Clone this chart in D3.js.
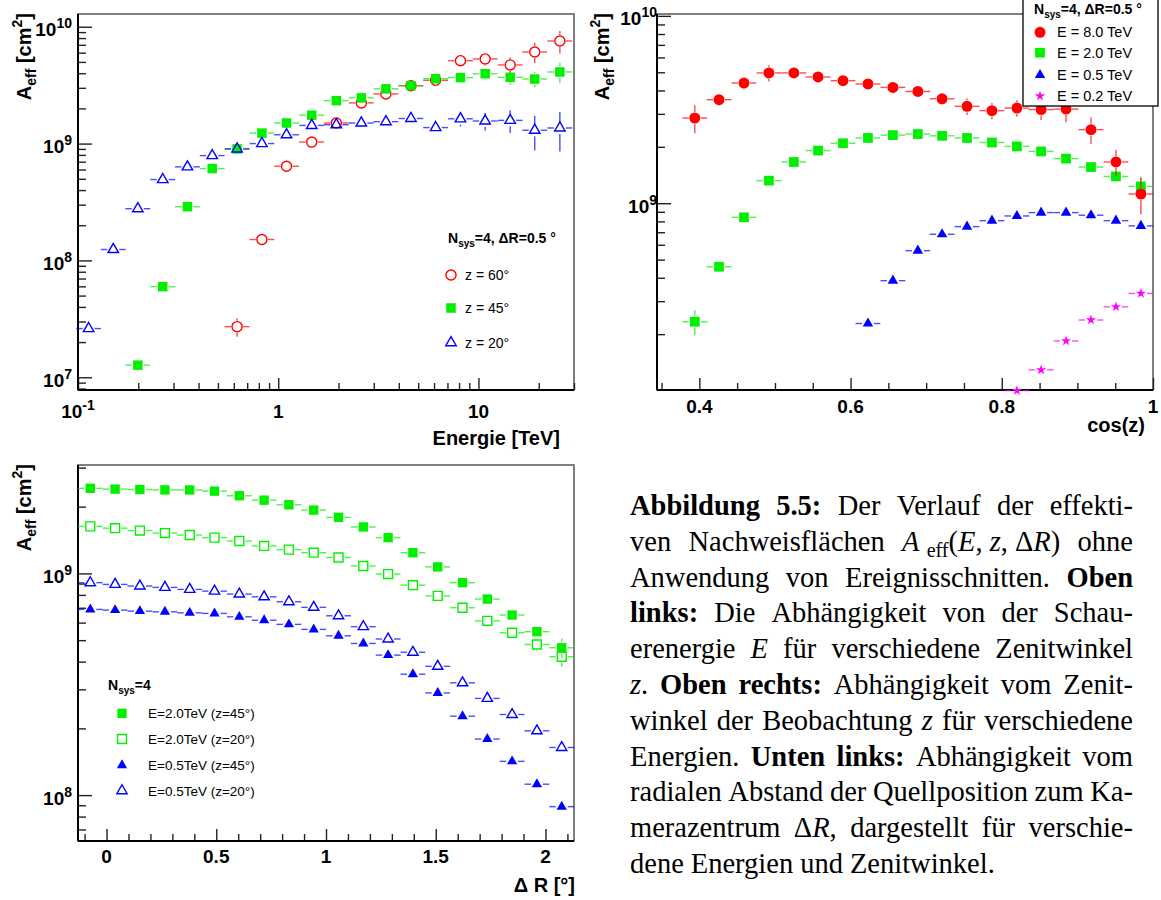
<!DOCTYPE html>
<html>
<head>
<meta charset="utf-8">
<script src="https://cdn.jsdelivr.net/npm/d3@7"></script>
<style>
  body { margin: 0; background: #fff; }
  svg { display: block; }
  .root text { font-family: "Liberation Sans", Arial, Helvetica, sans-serif; }
  .root text.cap { font-family: "Liberation Serif", "Times New Roman", serif; font-size: 28.5px; }
</style>
</head>
<body>
<script>
// ---- Oben links : A_eff(E) fuer drei Zenitwinkel ----
const energie = [0.113, 0.150, 0.199, 0.265, 0.352, 0.468, 0.623, 0.829, 1.10, 1.47,
                 1.95, 2.60, 3.45, 4.60, 6.11, 8.13, 10.8, 14.4, 19.1, 25.5];
const aeffZ60 = [null, null, null, null, null, null, 2.71e7, 1.51e8, 6.40e8, 1.03e9,
                 1.50e9, 2.23e9, 2.66e9, 3.13e9, 3.48e9, 5.12e9, 5.30e9, 4.71e9, 6.08e9, 7.55e9];
const errZ60  = [0, 0, 0, 0, 0, 0, .18, .10, .04, .03, .03, .03, .03, .03, .03, .05, .12, .16, .20, .22];
const aeffZ45 = [null, null, 1.27e7, 5.96e7, 2.88e8, 6.11e8, 9.0e8, 1.23e9, 1.50e9, 1.75e9,
                 2.33e9, 2.46e9, 2.94e9, 3.13e9, 3.59e9, 3.67e9, 3.96e9, 3.69e9, 3.57e9, 4.10e9];
const errZ45  = [0, 0, .10, .05, .03, .03, .03, .03, .03, .03, .03, .03, .03, .03, .03, .04, .08, .14, .15, .20];
const aeffZ20 = [2.61e7, 1.24e8, 2.77e8, 4.92e8, 6.32e8, 7.89e8, 9.0e8, 1.0e9, 1.19e9, 1.43e9,
                 1.45e9, 1.50e9, 1.54e9, 1.64e9, 1.37e9, 1.63e9, 1.56e9, 1.58e9, 1.30e9, 1.36e9];
const errZ20  = [.03, .03, .03, .03, .03, .03, .03, .03, .03, .03, .03, .04, .04, .05, .10, .14, .17, .22, .33, .37];
const halbBinLogE = 0.062;

// ---- Oben rechts : A_eff(cos z) fuer vier Energien ----
const cosZ = [0.394, 0.426, 0.459, 0.492, 0.525, 0.557, 0.590, 0.623, 0.656, 0.689,
              0.721, 0.754, 0.787, 0.820, 0.852, 0.885, 0.918, 0.951, 0.984];
const aeffE80 = [2.85e9, 3.57e9, 4.38e9, 4.96e9, 4.96e9, 4.72e9, 4.51e9, 4.33e9, 4.15e9, 3.95e9,
                 3.61e9, 3.29e9, 3.12e9, 3.22e9, 3.16e9, 3.18e9, 2.47e9, 1.66e9, 1.12e9];
const errE80  = [.17, .075, .075, .10, .06, .06, .06, .05, .075, .06, .075, .10, .10, .10, .12, .15, .16, .16, .22];
const aeffE20 = [2.33e8, 4.58e8, 8.41e8, 1.32e9, 1.66e9, 1.91e9, 2.09e9, 2.23e9, 2.31e9, 2.34e9,
                 2.29e9, 2.23e9, 2.11e9, 2.01e9, 1.89e9, 1.73e9, 1.56e9, 1.39e9, 1.23e9];
const errE20  = [.15, .06, .04, .03, .03, .03, .03, .03, .03, .03, .03, .03, .03, .03, .03, .03, .03, .04, .13];
const aeffE05 = [null, null, null, null, null, null, null, 2.28e8, 3.86e8, 5.58e8,
                 6.83e8, 7.50e8, 8.07e8, 8.55e8, 8.91e8, 8.91e8, 8.63e8, 8.07e8, 7.57e8];
const errE05  = [0, 0, 0, 0, 0, 0, 0, .03, .03, .03, .03, .03, .03, .03, .03, .03, .03, .03, .03];
const aeffE02 = [null, null, null, null, null, null, null, null, null, null,
                 null, null, null, 1.0e8, 1.29e8, 1.84e8, 2.38e8, 2.80e8, 3.30e8];
const errE02  = [0, 0, 0, 0, 0, 0, 0, 0, 0, 0, 0, 0, 0, .03, .03, .03, .03, .03, .03];
const halbBinCos = 0.0164;

// ---- Unten links : A_eff(Delta R) ----
const deltaR = [-0.074, 0.039, 0.152, 0.266, 0.379, 0.492, 0.605, 0.718, 0.831, 0.944,
                1.057, 1.170, 1.283, 1.396, 1.509, 1.622, 1.735, 1.848, 1.961, 2.074];
const aeffE2z45 = [2.42e9, 2.40e9, 2.39e9, 2.38e9, 2.38e9, 2.35e9, 2.24e9, 2.14e9, 2.04e9, 1.93e9,
                   1.79e9, 1.62e9, 1.45e9, 1.24e9, 1.07e9, 9.08e8, 7.66e8, 6.49e8, 5.46e8, 4.62e8];
const errE2z45  = [.02, .02, .02, .02, .02, .02, .02, .02, .02, .02, .02, .02, .02, .02, .02, .02, .02, .03, .05, .10];
const aeffE2z20 = [1.63e9, 1.60e9, 1.56e9, 1.52e9, 1.49e9, 1.45e9, 1.40e9, 1.33e9, 1.28e9, 1.24e9,
                   1.18e9, 1.08e9, 9.93e8, 8.85e8, 7.92e8, 7.00e8, 6.11e8, 5.40e8, 4.78e8, 4.21e8];
const errE2z20  = [.02, .02, .02, .02, .02, .02, .02, .02, .02, .02, .02, .02, .02, .02, .02, .03, .06, .03, .07, .10];
const aeffE05z45 = [6.88e8, 6.83e8, 6.76e8, 6.71e8, 6.64e8, 6.60e8, 6.37e8, 6.15e8, 5.89e8, 5.59e8,
                    5.23e8, 4.83e8, 4.28e8, 3.51e8, 2.89e8, 2.27e8, 1.79e8, 1.42e8, 1.12e8, 8.87e7];
const errE05z45  = [.02, .02, .02, .02, .02, .02, .02, .02, .02, .02, .02, .02, .02, .02, .02, .02, .02, .02, .03, .06];
const aeffE05z20 = [9.08e8, 8.92e8, 8.77e8, 8.65e8, 8.47e8, 8.32e8, 8.07e8, 7.84e8, 7.45e8, 7.03e8,
                    6.44e8, 5.75e8, 5.06e8, 4.41e8, 3.81e8, 3.21e8, 2.73e8, 2.31e8, 1.95e8, 1.64e8];
const errE05z20  = [.02, .02, .02, .02, .02, .02, .02, .02, .02, .02, .02, .02, .02, .02, .02, .02, .02, .02, .02, .03];
const halbBinR = 0.0565;

// Achsenbeschriftungen
const tlYTicks = [1e7, 1e8, 1e9, 1e10], tlYLabels = [["10", "7"], ["10", "8"], ["10", "9"], ["10", "10"]];
const tlXTicks = [0.1, 1, 10], tlXLabels = [["10", "-1"], ["1", ""], ["10", ""]];
const trYTicks = [1e9, 1e10], trYLabels = [["10", "9"], ["10", "10"]];
const trXTicks = [0.4, 0.6, 0.8, 1.0], trXLabels = [["0.4", ""], ["0.6", ""], ["0.8", ""], ["1", ""]];
const blYTicks = [1e8, 1e9], blYLabels = [["10", "8"], ["10", "9"]];
const blXTicks = [0, 0.5, 1, 1.5, 2], blXLabels = [["0", ""], ["0.5", ""], ["1", ""], ["1.5", ""], ["2", ""]];

// Bildunterschrift (b: fett, i: kursiv, s: tiefgestellt)
const captionLines = [
  ["b:Abbildung", "b:5.5:", "Der", "Verlauf", "der", "effekti-"],
  ["ven", "Nachweisflächen", "i:A|n: |s:eff|n:(|i:E|n:, |i:z|n:, |n:Δ|i:R|n:)", "ohne"],
  ["Anwendung", "von", "Ereignisschnitten.", "b:Oben"],
  ["b:links:", "Die", "Abhängigkeit", "von", "der", "Schau-"],
  ["erenergie", "i:E", "für", "verschiedene", "Zenitwinkel"],
  ["i:z|n:.", "b:Oben", "b:rechts:", "Abhängigkeit", "vom", "Zenit-"],
  ["winkel", "der", "Beobachtung", "i:z", "für", "verschiedene"],
  ["Energien.", "b:Unten", "b:links:", "Abhängigkeit", "vom"],
  ["radialen", "Abstand", "der", "Quellposition", "zum", "Ka-"],
  ["merazentrum", "n:Δ|i:R|n:,", "dargestellt", "für", "verschie-"],
  ["dene", "Energien", "und", "Zenitwinkel."]
];

const red = "#ff0000", green = "#00f000", blue = "#0000ff", magenta = "#ff00ff";

const svg = d3.select("body").append("svg")
    .attr("class", "root")
    .attr("width", 1161)
    .attr("height", 900);

// minor ticks 2..9 x 10^n inside a log domain
function logMinor(a, b) {
    const out = [];
    for (let e = Math.floor(Math.log10(a)); e <= Math.ceil(Math.log10(b)); e++)
        for (let m = 2; m <= 9; m++) {
            const v = m * Math.pow(10, e);
            if (v >= a && v <= b) out.push(v);
        }
    return out;
}

function tickLabel(g, x, y, lab, anchor) {
    const t = g.append("text").attr("x", x).attr("y", y)
        .attr("text-anchor", anchor).attr("font-weight", "bold").attr("font-size", 19);
    t.append("tspan").text(lab[0]);
    if (lab[1]) t.append("tspan").attr("dy", -8).attr("font-size", 14).text(lab[1]);
}

function yTitle(g, x, y) {
    const t = g.append("text").attr("transform", `translate(${x},${y}) rotate(-90)`)
        .attr("text-anchor", "end").attr("font-weight", "bold").attr("font-size", 20);
    t.append("tspan").text("A");
    t.append("tspan").attr("font-size", 14).attr("dy", 5).text("eff");
    t.append("tspan").attr("dy", -5).text(" [cm");
    t.append("tspan").attr("font-size", 14).attr("dy", -9).text("2");
    t.append("tspan").attr("dy", 9).text("]");
}

function panel(p) {
    const g = svg.append("g");
    g.append("rect")
        .attr("x", p.x0).attr("y", p.y0)
        .attr("width", p.x1 - p.x0).attr("height", p.y1 - p.y0)
        .attr("fill", "none").attr("stroke", "#555").attr("stroke-width", 1.5);

    const ax = (axis, vals, size, tr) => g.append("g").attr("transform", tr)
        .call(axis.tickValues(vals).tickSize(size).tickSizeOuter(0).tickFormat(""))
        .call(a => {
            a.select(".domain").remove();
            a.selectAll("line").attr("stroke", "#222").attr("stroke-width", 1.4);
        });
    ax(d3.axisLeft(p.y), p.yMinor, -8, `translate(${p.x0},0)`);
    ax(d3.axisLeft(p.y), p.yTicks, -14, `translate(${p.x0},0)`);
    ax(d3.axisBottom(p.x), p.xMinor, -7, `translate(0,${p.y1})`);
    ax(d3.axisBottom(p.x), p.xTicks, -12, `translate(0,${p.y1})`);

    g.append("line").attr("x1", p.x0).attr("x2", p.x0).attr("y1", p.y0).attr("y2", p.y1)
        .attr("stroke", "#000").attr("stroke-width", 2);
    g.append("line").attr("x1", p.x0).attr("x2", p.x1).attr("y1", p.y1).attr("y2", p.y1)
        .attr("stroke", "#000").attr("stroke-width", 2);

    p.yTicks.forEach((v, i) => tickLabel(g, p.x0 - p.yGap, p.y(v) + 9.5, p.yLabels[i], "end"));
    p.xTicks.forEach((v, i) => tickLabel(g, p.x(v), p.xLabY, p.xLabels[i], "middle"));

    g.append("text").attr("x", p.xTitleX).attr("y", p.xTitleY)
        .attr("text-anchor", "end").attr("font-weight", "bold").attr("font-size", 20)
        .text(p.xTitle);
    yTitle(g, p.yTitleX, p.y0 - 1);
    return g;
}

function drawMarker(g, m, cx, cy) {
    g.append("path")
        .attr("transform", `translate(${cx},${cy})`)
        .attr("d", d3.symbol().type(m.shape).size(m.size)())
        .attr("fill", m.open ? "none" : m.color)
        .attr("stroke", m.open ? m.color : "none")
        .attr("stroke-width", 1.4);
}

function drawSeries(g, sx, sy, xs, ys, errs, lo, hi, m) {
    const eg = g.append("g").attr("stroke", m.color).attr("stroke-width", 1.4).attr("opacity", 0.7);
    xs.forEach((xv, i) => {
        const v = ys[i];
        if (v == null) return;
        const cx = sx(xv), cy = sy(v), gap = 6;
        const xl = sx(lo(xv)), xr = sx(hi(xv));
        eg.append("line").attr("x1", xl).attr("x2", cx - gap).attr("y1", cy).attr("y2", cy);
        eg.append("line").attr("x1", cx + gap).attr("x2", xr).attr("y1", cy).attr("y2", cy);
        const yu = sy(v * (1 + errs[i])), yd = sy(v * (1 - errs[i]));
        if (cy - yu > gap) eg.append("line").attr("x1", cx).attr("x2", cx).attr("y1", yu).attr("y2", cy - gap);
        if (yd - cy > gap) eg.append("line").attr("x1", cx).attr("x2", cx).attr("y1", cy + gap).attr("y2", yd);
    });
    xs.forEach((xv, i) => {
        if (ys[i] == null) return;
        drawMarker(g, m, sx(xv), sy(ys[i]));
    });
}

function legendTitle(g, x, y, rest) {
    const t = g.append("text").attr("x", x).attr("y", y)
        .attr("font-weight", "bold").attr("font-size", 14);
    t.append("tspan").text("N");
    t.append("tspan").attr("font-size", 10).attr("dy", 4).text("sys");
    t.append("tspan").attr("dy", -4).text(rest);
}

// Markers
const mZ60 = { shape: d3.symbolCircle, size: 80, color: red, open: true };
const mZ45 = { shape: d3.symbolSquare, size: 90, color: green, open: false };
const mZ20 = { shape: d3.symbolTriangle, size: 48, color: blue, open: true };
const mE80 = { shape: d3.symbolCircle, size: 95, color: red, open: false };
const mE20 = { shape: d3.symbolSquare, size: 95, color: green, open: false };
const mE05 = { shape: d3.symbolTriangle, size: 48, color: blue, open: false };
const mE02 = { shape: d3.symbolStar, size: 32, color: magenta, open: false };
const mSqF = { shape: d3.symbolSquare, size: 88, color: green, open: false };
const mSqO = { shape: d3.symbolSquare, size: 80, color: green, open: true };
const mTrF = { shape: d3.symbolTriangle, size: 46, color: blue, open: false };
const mTrO = { shape: d3.symbolTriangle, size: 46, color: blue, open: true };

// ---------- Oben links ----------
const tl = { x0: 78, x1: 574, y0: 14, y1: 390 };
tl.x = d3.scaleLog().domain([0.1, 30]).range([tl.x0, tl.x1]);
tl.y = d3.scaleLog().domain([Math.pow(10, 6.891), Math.pow(10, 10.109)]).range([tl.y1, tl.y0]);
Object.assign(tl, {
    yTicks: tlYTicks, yLabels: tlYLabels, yMinor: logMinor(...tl.y.domain()), yGap: 6,
    xTicks: tlXTicks, xLabels: tlXLabels, xMinor: logMinor(...tl.x.domain()), xLabY: 418,
    xTitle: "Energie [TeV]", xTitleX: 560, xTitleY: 445, yTitleX: 31
});
const gTL = panel(tl);
const kE = Math.pow(10, halbBinLogE);
drawSeries(gTL, tl.x, tl.y, energie, aeffZ60, errZ60, e => e / kE, e => e * kE, mZ60);
drawSeries(gTL, tl.x, tl.y, energie, aeffZ45, errZ45, e => e / kE, e => e * kE, mZ45);
drawSeries(gTL, tl.x, tl.y, energie, aeffZ20, errZ20, e => e / kE, e => e * kE, mZ20);

legendTitle(gTL, 448, 243, "=4, ΔR=0.5 °");
[["z = 60°", mZ60], ["z = 45°", mZ45], ["z = 20°", mZ20]].forEach(([lab, m], i) => {
    const y = [275, 308, 342.7][i];
    drawMarker(gTL, m, 451, y);
    gTL.append("text").attr("x", 465).attr("y", y + 5).attr("font-size", 14).text(lab);
});

// ---------- Oben rechts ----------
const tr = { x0: 657, x1: 1153, y0: 14, y1: 390 };
tr.x = d3.scaleLinear().domain([0.344, 1.0]).range([tr.x0, tr.x1]);
tr.y = d3.scaleLog().domain([Math.pow(10, 8.003), Math.pow(10, 10.01)]).range([tr.y1, tr.y0]);
Object.assign(tr, {
    yTicks: trYTicks, yLabels: trYLabels, yMinor: logMinor(...tr.y.domain()), yGap: 0,
    xTicks: trXTicks, xLabels: trXLabels,
    xMinor: d3.range(7, 20).map(k => k * 0.05).filter(v => Math.abs(v * 5 - Math.round(v * 5)) > 1e-6),
    xLabY: 413, xTitle: "cos(z)", xTitleX: 1145, xTitleY: 432, yTitleX: 609
});
const gTR = panel(tr);
const cLo = c => c - halbBinCos, cHi = c => c + halbBinCos;
drawSeries(gTR, tr.x, tr.y, cosZ, aeffE20, errE20, cLo, cHi, mE20);
drawSeries(gTR, tr.x, tr.y, cosZ, aeffE80, errE80, cLo, cHi, mE80);
drawSeries(gTR, tr.x, tr.y, cosZ, aeffE05, errE05, cLo, cHi, mE05);
drawSeries(gTR, tr.x, tr.y, cosZ, aeffE02, errE02, cLo, cHi, mE02);

gTR.append("rect").attr("x", 1023).attr("y", -1).attr("width", 135).attr("height", 107)
    .attr("fill", "#fff").attr("stroke", "#000").attr("stroke-width", 1.3);
legendTitle(gTR, 1034, 14, "=4, ΔR=0.5 °");
[["E = 8.0 TeV", mE80], ["E = 2.0 TeV", mE20], ["E = 0.5 TeV", mE05], ["E = 0.2 TeV", mE02]].forEach(([lab, m], i) => {
    const y = [32.3, 52.7, 75, 96][i];
    drawMarker(gTR, m, 1040, y);
    gTR.append("text").attr("x", 1057).attr("y", y + 5).attr("font-size", 14.5).text(lab);
});

// ---------- Unten links ----------
const bl = { x0: 78, x1: 574, y0: 465, y1: 841 };
bl.x = d3.scaleLinear().domain([-0.13, 2.13]).range([bl.x0, bl.x1]);
bl.y = d3.scaleLog().domain([Math.pow(10, 7.793), Math.pow(10, 9.489)]).range([bl.y1, bl.y0]);
Object.assign(bl, {
    yTicks: blYTicks, yLabels: blYLabels, yMinor: logMinor(...bl.y.domain()), yGap: 6,
    xTicks: blXTicks, xLabels: blXLabels,
    xMinor: d3.range(-1, 22).map(k => k / 10).filter(v => Math.abs(v * 2 - Math.round(v * 2)) > 1e-6),
    xLabY: 863, xTitle: "Δ R [°]", xTitleX: 575, xTitleY: 892, yTitleX: 31
});
const gBL = panel(bl);
const rLo = r => r - halbBinR, rHi = r => r + halbBinR;
drawSeries(gBL, bl.x, bl.y, deltaR, aeffE2z45, errE2z45, rLo, rHi, mSqF);
drawSeries(gBL, bl.x, bl.y, deltaR, aeffE2z20, errE2z20, rLo, rHi, mSqO);
drawSeries(gBL, bl.x, bl.y, deltaR, aeffE05z45, errE05z45, rLo, rHi, mTrF);
drawSeries(gBL, bl.x, bl.y, deltaR, aeffE05z20, errE05z20, rLo, rHi, mTrO);

legendTitle(gBL, 108, 690, "=4");
[["E=2.0TeV (z=45°)", mSqF], ["E=2.0TeV (z=20°)", mSqO], ["E=0.5TeV (z=45°)", mTrF], ["E=0.5TeV (z=20°)", mTrO]].forEach(([lab, m], i) => {
    const y = [713.3, 739, 765.3, 790.7][i];
    drawMarker(gBL, m, 122, y);
    gBL.append("text").attr("x", 148).attr("y", y + 5).attr("font-size", 13.5).text(lab);
});

// ---------- Bildunterschrift, Blocksatz ----------
const capX0 = 630, capX1 = 1133, capY0 = 515, capDY = 35.8;
function parseWord(w) {
    return w.split("|").map(s => {
        const m = s.match(/^([bins]):(.*)$/);
        return m ? { s: m[1], t: m[2] } : { s: "n", t: s };
    });
}
captionLines.forEach((words, li) => {
    const y = capY0 + li * capDY;
    const nodes = words.map(w => {
        const t = svg.append("text").attr("class", "cap").attr("y", y);
        let off = 0;
        parseWord(w).forEach(seg => {
            const ts = t.append("tspan").text(seg.t);
            const target = seg.s === "s" ? 6 : 0;
            if (target !== off) { ts.attr("dy", target - off); off = target; }
            if (seg.s === "b") ts.attr("font-weight", "bold");
            if (seg.s === "i") ts.attr("font-style", "italic");
            if (seg.s === "s") ts.attr("font-size", 20);
        });
        return t;
    });
    const widths = nodes.map(n => n.node().getComputedTextLength());
    const total = d3.sum(widths);
    const last = li === captionLines.length - 1;
    const space = last ? 7 : (capX1 - capX0 - total) / (nodes.length - 1);
    let x = capX0;
    nodes.forEach((n, i) => { n.attr("x", x); x += widths[i] + space; });
});
</script>
</body>
</html>
